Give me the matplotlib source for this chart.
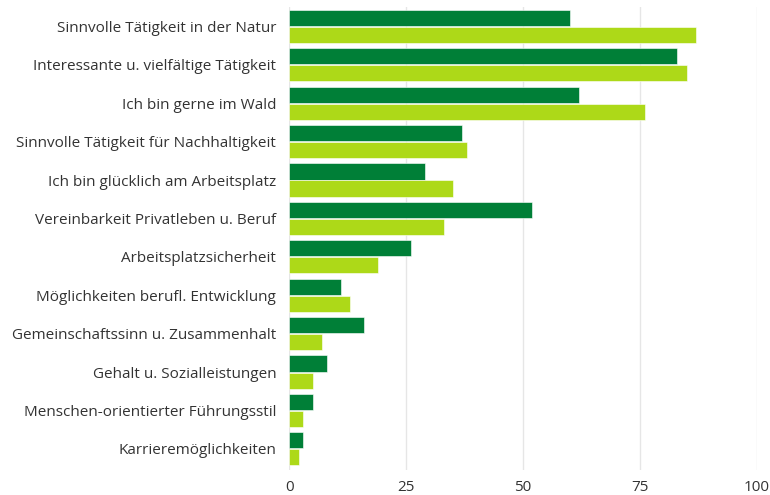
import numpy as np
import matplotlib.pyplot as plt

plt.rcParams['font.family'] = ['Open Sans', 'DejaVu Sans']

# Kategorien (von oben nach unten)
kategorien = [
    "Sinnvolle Tätigkeit in der Natur",
    "Interessante u. vielfältige Tätigkeit",
    "Ich bin gerne im Wald",
    "Sinnvolle Tätigkeit für Nachhaltigkeit",
    "Ich bin glücklich am Arbeitsplatz",
    "Vereinbarkeit Privatleben u. Beruf",
    "Arbeitsplatzsicherheit",
    "Möglichkeiten berufl. Entwicklung",
    "Gemeinschaftssinn u. Zusammenhalt",
    "Gehalt u. Sozialleistungen",
    "Menschen-orientierter Führungsstil",
    "Karrieremöglichkeiten",
]
werte_dunkel = [60, 83, 62, 37, 29, 52, 26, 11, 16, 8, 5, 3]
werte_hell = [87, 85, 76, 38, 35, 33, 19, 13, 7, 5, 3, 2]
x_ticks = [0, 25, 50, 75, 100]

dunkel = '#007f37'
hell = '#add918'

fig = plt.figure(figsize=(7.7, 4.95), dpi=100)
ax = fig.add_axes([0.3757, 0.0505, 0.607, 0.935])

y = np.arange(len(kategorien))
h = 0.42
ax.barh(y - h / 2 - 0.012, werte_dunkel, height=h, color=dunkel,
        edgecolor='white', linewidth=0.4, zorder=3)
ax.barh(y + h / 2 + 0.012, werte_hell, height=h, color=hell,
        edgecolor='white', linewidth=0.4, zorder=3)

ax.set_ylim(len(kategorien) - 0.45, -0.5)
ax.set_xlim(0, 100)
ax.set_yticks(y)
ax.set_yticklabels(kategorien, fontsize=11, color='#333333')
ax.set_xticks(x_ticks)
ax.set_xticklabels([str(t) for t in x_ticks], fontsize=11, color='#333333')
ax.tick_params(axis='both', length=0)
ax.tick_params(axis='y', pad=9.4)
ax.tick_params(axis='x', pad=7)

ax.grid(axis='x', color='#e6e6e6', linewidth=1, zorder=0)
for s in ax.spines.values():
    s.set_visible(False)

fig.savefig('out.png', dpi=100)
